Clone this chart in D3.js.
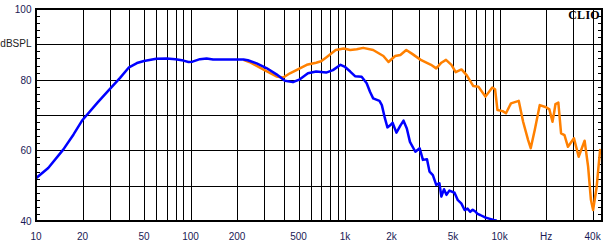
<!DOCTYPE html>
<html>
<head>
<meta charset="utf-8">
<script src="https://cdn.jsdelivr.net/npm/d3@7"></script>
<style>
  html, body { margin: 0; padding: 0; background: #fff; }
  svg { display: block; }
  .lbl { font-family: Arial, "Liberation Sans", sans-serif; font-size: 10px; fill: #1a1a55; }
</style>
</head>
<body>
<div id="container"></div>
<script>
// frequency response, two curves (Hz, dB)
const blueFreq = [10, 12, 15, 17.5, 20, 25, 30, 35, 40, 45, 50, 60, 70, 80, 90, 97, 103, 115, 127, 140, 220, 235, 268, 310, 360, 408, 460, 510, 575, 650, 755, 835, 935, 1000, 1080, 1160, 1280, 1380, 1450, 1520, 1670, 1730, 1810, 1880, 1950, 2030, 2150, 2280, 2390, 2510, 2630, 2850, 3040, 3190, 3390, 3520, 3700, 3890, 4080, 4200, 4370, 4530, 4730, 5110, 5370, 5650, 5940, 6200, 6450, 6700, 6960, 7200, 7490, 8060, 8670, 9170, 9600];
const blueDb = [52.1, 55.0, 60.2, 64.5, 68.6, 73.5, 77.3, 80.5, 83.5, 84.7, 85.3, 85.9, 86.0, 85.8, 85.4, 85.0, 85.1, 85.8, 86.0, 85.7, 85.7, 85.5, 84.6, 83.3, 81.5, 79.7, 79.3, 80.1, 81.8, 82.3, 82.0, 82.7, 84.2, 83.6, 82.3, 81.0, 80.8, 79.0, 76.6, 74.7, 74.0, 72.8, 69.1, 66.5, 67.0, 67.8, 65.0, 67.0, 68.4, 66.2, 62.4, 59.6, 60.6, 57.3, 57.5, 54.0, 53.0, 50.2, 50.7, 46.9, 49.0, 47.4, 48.6, 48.0, 45.9, 45.0, 43.1, 43.5, 42.6, 43.2, 42.7, 42.0, 41.7, 41.0, 40.6, 40.3, 40.1];

const orangeFreq = [220, 240, 268, 310, 360, 398, 440, 510, 565, 650, 700, 755, 870, 980, 1080, 1190, 1310, 1520, 1770, 1910, 2110, 2280, 2490, 2720, 3090, 3600, 3890, 4200, 4500, 4880, 5200, 5670, 6120, 6760, 7300, 8100, 8970, 9350, 9690, 10460, 11000, 11850, 13300, 14200, 15300, 15900, 16900, 18200, 20000, 21000, 22000, 22500, 23000, 24000, 25000, 26300, 27700, 30300, 32500, 35500, 37400, 39000, 40300, 42500, 44700, 46000];
const orangeDb = [85.6, 85.0, 83.9, 82.4, 80.9, 80.6, 81.8, 83.2, 84.2, 84.8, 85.2, 86.3, 88.4, 88.8, 88.4, 88.6, 89.0, 88.4, 86.7, 85.0, 86.7, 87.0, 88.4, 87.3, 85.6, 84.2, 83.2, 84.8, 85.6, 84.2, 82.1, 82.9, 81.3, 78.2, 78.0, 75.2, 77.8, 77.3, 71.4, 71.1, 70.5, 73.3, 74.0, 68.1, 62.9, 60.6, 65.8, 72.8, 72.2, 71.6, 68.1, 70.5, 73.1, 73.5, 64.8, 64.3, 61.0, 63.4, 58.2, 62.7, 55.4, 46.0, 43.1, 49.7, 60.1, 59.5];

const xGrid = [20, 30, 40, 50, 60, 70, 80, 90, 100, 200, 300, 400, 500, 600, 700, 800, 900, 1000, 2000, 3000, 4000, 5000, 6000, 7000, 8000, 9000, 10000, 20000, 30000, 40000];
const xLabels = [[10, '10'], [20, '20'], [50, '50'], [100, '100'], [200, '200'], [500, '500'], [1000, '1k'], [2000, '2k'], [5000, '5k'], [10000, '10k'], [20000, 'Hz'], [40000, '40k']];
const yGrid = [50, 60, 70, 80, 90];
const yLabels = [[100, '100'], [90, 'dBSPL'], [80, '80'], [60, '60'], [40, '40']];

const width = 608;
const height = 249;
const plotL = 36, plotR = 602, plotT = 9, plotB = 221;

const x = d3.scaleLog().domain([10, 46000]).range([plotL, plotR]);
const y = d3.scaleLinear().domain([40, 100]).range([plotB, plotT]);

const svg = d3
  .select('#container')
  .append('svg')
  .attr('width', width)
  .attr('height', height);

svg.append('defs')
  .append('clipPath')
  .attr('id', 'plot')
  .append('rect')
  .attr('x', plotL)
  .attr('y', plotT)
  .attr('width', plotR - plotL)
  .attr('height', plotB - plotT);

// Grid
svg.selectAll('line.vg')
  .data(xGrid)
  .enter()
  .append('line')
  .attr('class', 'vg')
  .attr('x1', d => Math.round(x(d)) + 0.5)
  .attr('x2', d => Math.round(x(d)) + 0.5)
  .attr('y1', plotT)
  .attr('y2', plotB)
  .attr('stroke', '#000')
  .attr('stroke-width', 1);

svg.selectAll('line.hg')
  .data(yGrid)
  .enter()
  .append('line')
  .attr('class', 'hg')
  .attr('x1', plotL)
  .attr('x2', plotR)
  .attr('y1', d => Math.round(y(d)) + 0.5)
  .attr('y2', d => Math.round(y(d)) + 0.5)
  .attr('stroke', '#000')
  .attr('stroke-width', 1);

// minor ticks, every 2 dB, both sides
const minor = d3.range(42, 100, 2).filter(d => d % 10 !== 0);
svg.selectAll('line.tl')
  .data(minor)
  .enter()
  .append('line')
  .attr('x1', plotL)
  .attr('x2', plotL + 4)
  .attr('y1', d => Math.round(y(d)) + 0.5)
  .attr('y2', d => Math.round(y(d)) + 0.5)
  .attr('stroke', '#000');

svg.selectAll('line.tr')
  .data(minor)
  .enter()
  .append('line')
  .attr('x1', plotR - 4)
  .attr('x2', plotR)
  .attr('y1', d => Math.round(y(d)) + 0.5)
  .attr('y2', d => Math.round(y(d)) + 0.5)
  .attr('stroke', '#000');

// Curves
const line = d3.line()
  .x(d => x(d[0]))
  .y(d => y(d[1]));

const curves = svg.append('g').attr('clip-path', 'url(#plot)');

curves.append('path')
  .datum(d3.zip(orangeFreq, orangeDb))
  .attr('d', line)
  .attr('fill', 'none')
  .attr('stroke', '#ff8000')
  .attr('stroke-width', 2.5)
  .attr('stroke-linejoin', 'round');

curves.append('path')
  .datum(d3.zip(blueFreq, blueDb))
  .attr('d', line)
  .attr('fill', 'none')
  .attr('stroke', '#0000ff')
  .attr('stroke-width', 2.5)
  .attr('stroke-linejoin', 'round');

// Border
svg.append('rect')
  .attr('x', plotL)
  .attr('y', plotT)
  .attr('width', plotR - plotL)
  .attr('height', plotB - plotT)
  .attr('fill', 'none')
  .attr('stroke', '#000')
  .attr('stroke-width', 2);

// Labels
svg.selectAll('text.xl')
  .data(xLabels)
  .enter()
  .append('text')
  .attr('class', 'lbl')
  .attr('x', d => x(d[0]))
  .attr('y', 239.5)
  .attr('text-anchor', 'middle')
  .text(d => d[1]);

svg.selectAll('text.yl')
  .data(yLabels)
  .enter()
  .append('text')
  .attr('class', 'lbl')
  .attr('x', 31.5)
  .attr('y', d => y(d[0]) + (d[1] === 'dBSPL' ? 2.5 : 4))
  .attr('text-anchor', 'end')
  .style('fill', d => d[1] === 'dBSPL' ? '#222' : null)
  .text(d => d[1]);

svg.append('text')
  .attr('x', 600)
  .attr('y', 19)
  .attr('text-anchor', 'end')
  .style('font-family', '"Liberation Serif", "Times New Roman", serif')
  .style('font-weight', 'bold')
  .style('font-size', '12px')
  .style('letter-spacing', '0.3px')
  .text('CLIO');
</script>
</body>
</html>
